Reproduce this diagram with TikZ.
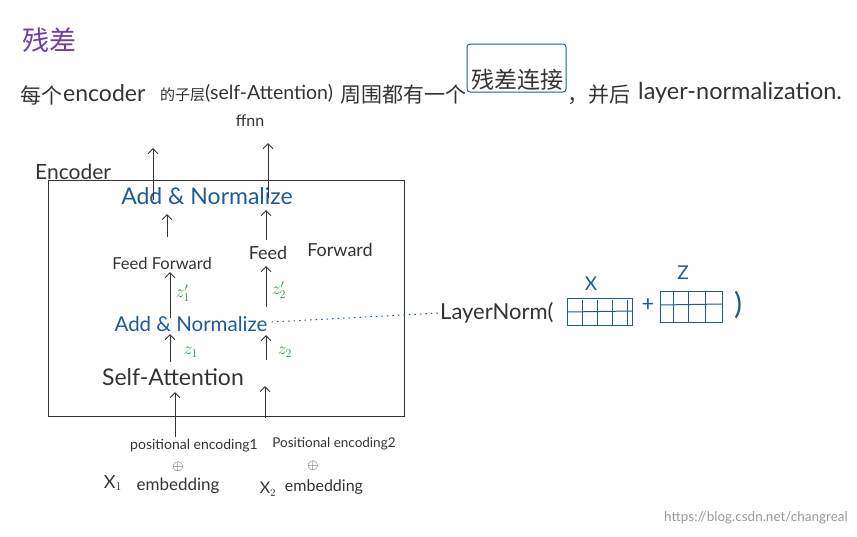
\documentclass[tikz,border=0pt]{standalone}
\usepackage{fontspec}
\setmainfont{Lato}
\newfontfamily\cjk{Noto Sans CJK SC}
\usetikzlibrary{arrows.meta}
\definecolor{ink}{HTML}{333333}
\definecolor{inkblue}{HTML}{1F5A96}
\definecolor{inkgreen}{HTML}{2E9E3E}
\definecolor{inkpurple}{HTML}{6B3FA8}
\newcommand{\fs}[1]{\fontsize{#1}{#1}\selectfont}
\tikzset{
  txt/.style={inner sep=0pt, text=ink},
  cn/.style={txt, font=\cjk\fs{21}},
  lat/.style={txt, font=\fs{19}},
  bluetxt/.style={inner sep=0pt, text=inkblue, font=\fs{21}},
  ztxt/.style={inner sep=0pt, text=inkgreen, font=\fs{18}},
  small/.style={txt, font=\fs{14}},
  arr/.style={draw=ink, line width=1pt, -{Straight Barb[length=5pt,width=10pt]}},
  gridline/.style={draw=inkblue, line width=1pt},
}
\begin{document}
\begin{tikzpicture}[x=1pt,y=-1pt]
\useasboundingbox (0,0) rectangle (857,536);

% title
\node[txt,text=inkpurple,font=\cjk\fs{27},anchor=west] (title) at (22,40) {残差};

% first line
\node[cn,anchor=west] (l1a) at (20,95) {每个};
\node[lat,font=\fs{23},anchor=west] (l1b) at (63,93) {encoder};
\node[cn,font=\cjk\fs{15},anchor=west] (l1c) at (160,95) {的子层};
\node[lat,font=\fs{19.5},anchor=west] (l1d) at (205,93) {(self-Attention)};
\node[lat,font=\fs{16}] (ffnn) at (250,121) {ffnn};
\node[cn,anchor=west] (l1e) at (340,95) {周围都有一个};
\node[draw=inkblue,line width=1pt,rounded corners=3pt,minimum width=99pt,minimum height=48pt,inner sep=0pt] (resbox) at (516.5,68) {};
\node[cn,font=\cjk\fs{23}] (res) at (517,80) {残差连接};
\node[cn,anchor=west] (l1f) at (567,95) {，并后};
\node[lat,font=\fs{23.5},anchor=west] (l1g) at (638,93) {layer-normalization.};

% encoder box
\node[lat,font=\fs{21},anchor=west] (enclabel) at (35,172) {Encoder};
\node[draw=ink,line width=1pt,minimum width=356pt,minimum height=236pt,inner sep=0pt] (enc) at (226,298) {};

% inner texts
\node[bluetxt,font=\fs{23}] (an2) at (207,196) {Add \& Normalize};
\node[txt,font=\fs{16.5}] (ff1) at (162,263) {Feed Forward};
\node[txt,font=\fs{18}] (ff2a) at (268,253) {Feed};
\node[txt,font=\fs{18}] (ff2b) at (340,250) {Forward};
\node[bluetxt,font=\fs{20.5}] (an1) at (191,324) {Add \& Normalize};
\node[txt,font=\fs{23}] (sa) at (173,377) {Self-Attention};

% green labels
\node[ztxt] (z1p) at (183,293) {$z_1'$};
\node[ztxt] (z2p) at (279,290) {$z_2'$};
\node[ztxt] (z1) at (191,352) {$z_1$};
\node[ztxt] (z2) at (285,352) {$z_2$};

% arrow coordinates
\coordinate (t1s) at (153,200); \coordinate (t1e) at (153,148);
\coordinate (t2s) at (268,198); \coordinate (t2e) at (268,143);
\coordinate (a3s) at (167,237); \coordinate (a3e) at (167,214);
\coordinate (a4s) at (266,240); \coordinate (a4e) at (266,210);
\coordinate (a5s) at (170,318); \coordinate (a5e) at (170,272);
\coordinate (a6s) at (266,307); \coordinate (a6e) at (266,266);
\coordinate (a7s) at (170,362); \coordinate (a7e) at (170,334);
\coordinate (a8s) at (266,360); \coordinate (a8e) at (266,335);
\coordinate (a9s) at (175,437); \coordinate (a9e) at (175,392);
\coordinate (a10s) at (265,418); \coordinate (a10e) at (265,386);
\foreach \a in {t1,t2,a3,a4,a5,a6,a7,a8,a9,a10} \draw[arr] (\a s) -- (\a e);

% bottom inputs
\node[small] (pe1) at (194,446) {positional encoding1};
\node[small,font=\fs{13.5}] (pe2) at (334,444) {Positional encoding2};
\node[small,font=\fs{15}] (op1) at (178,467) {$\oplus$};
\node[small,font=\fs{15}] (op2) at (313,466) {$\oplus$};
\node[small,font=\fs{18}] (x1) at (113,483) {X$_1$};
\node[small,font=\fs{17}] (emb1) at (178,486) {embedding};
\node[small,font=\fs{16}] (x2) at (268,489) {X$_2$};
\node[small,font=\fs{16}] (emb2) at (324,487) {embedding};

% layer norm
\node[lat,font=\fs{22},anchor=west] (ln) at (440,313) {LayerNorm(};
\draw[draw=inkblue,line width=1pt,dash pattern=on 1.5pt off 4pt] (an1.east) ++(4,-2) -- (ln.west);
\node[bluetxt,font=\fs{19}] (xl) at (591,284) {X};
\node[bluetxt,font=\fs{22}] (plus) at (648,305) {+};
\node[bluetxt,font=\fs{19}] (zl) at (683,273) {Z};
\node[bluetxt,font=\fs{30}] (rp) at (738,305) {)};
% grid X
\draw[gridline] (567,298) rectangle (632,325);
\draw[gridline] (567,312) -- (632,311);
\foreach \x in {582,597,612,627} \draw[gridline] (\x,300) -- (\x,325);
% grid Z
\draw[gridline] (660,291) rectangle (722,322);
\draw[gridline] (660,305) -- (722,304);
\foreach \x in {673,688,705} \draw[gridline] (\x,291) -- (\x,322);

% watermark
\node[inner sep=0pt,text=black!40,font=\fs{13.5},anchor=east] (wm) at (848,518) {https://blog.csdn.net/changreal};
\end{tikzpicture}
\end{document}
